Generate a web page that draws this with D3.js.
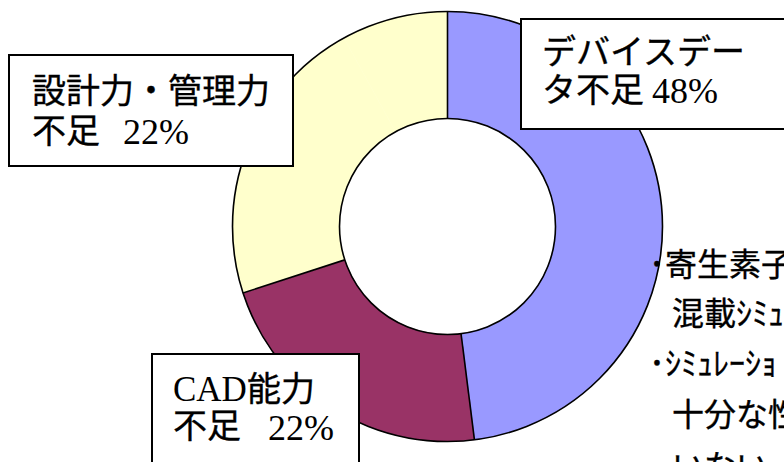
<!DOCTYPE html>
<html>
<head>
<meta charset="utf-8">
<script src="https://cdn.jsdelivr.net/npm/d3@7"></script>
<style>
  html, body { margin: 0; padding: 0; background: #ffffff; }
  svg { display: block; }
  .jp { stroke: #000; stroke-width: 0.35px; }
</style>
</head>
<body>
<script>
// Causes of analog design problems (share, %)
const categories = ["デバイスデータ不足", "CAD能力不足", "設計力・管理力不足", "その他"];
const values = [48, 22, 22, 8];
const colors = ["#9999FF", "#993366", "#FFFFCC", "#FFFFCC"];
// Two-line callout text for the three named causes
const labelLines = [
  ["デバイスデー", "タ不足"],
  ["CAD能力", "不足"],
  ["設計力・管理力", "不足"]
];
// Side note lines
const noteLines = ["･寄生素子", "混載ｼﾐｭ", "･ｼﾐｭﾚｰｼｮ", "十分な性", "いない"];

const W = 784, H = 462;
const cx = 447.5, cy = 226.5, rOuter = 215, rInner = 108;
const jpFont = "'Noto Sans CJK JP', 'Noto Sans CJK SC', sans-serif";
const numFont = "'Liberation Serif', 'Times New Roman', serif";

const svg = d3.select("body").append("svg")
  .attr("width", W).attr("height", H);

const pie = d3.pie().sort(null).value(d => d);
const arcs = pie(values);
const arc = d3.arc().innerRadius(rInner).outerRadius(rOuter);

const g = svg.append("g").attr("transform", `translate(${cx},${cy})`);

// slice fills
g.selectAll("path.slice")
  .data(arcs)
  .join("path")
  .attr("class", "slice")
  .attr("d", arc)
  .attr("fill", (d, i) => colors[i])
  .attr("stroke", (d, i) => colors[i])
  .attr("stroke-width", 0.5);

// ring outlines
[rOuter, rInner].forEach(r => {
  g.append("circle").attr("r", r)
    .attr("fill", "none").attr("stroke", "#000").attr("stroke-width", 1.6);
});

// radial dividers at the start of each named slice
arcs.slice(0, 3).forEach(a => {
  const t = a.startAngle;
  g.append("line")
    .attr("x1", rInner * Math.sin(t)).attr("y1", -rInner * Math.cos(t))
    .attr("x2", rOuter * Math.sin(t)).attr("y2", -rOuter * Math.cos(t))
    .attr("stroke", "#000").attr("stroke-width", 1.6);
});

// callout boxes with text anchors and baselines
const boxes = [
  { x: 521, y: 19, w: 300, h: 110, tx: 542, b1: 64, b2: 102, vx: 652, vb: 103 },
  { x: 152, y: 354, w: 207, h: 150, tx: 173, b1: 401, b2: 438, vx: 268, vb: 440 },
  { x: 9, y: 55, w: 284, h: 111, tx: 32, b1: 103, b2: 143, vx: 123, vb: 144 }
];

boxes.forEach((b, i) => {
  const bg = svg.append("g");
  bg.append("rect")
    .attr("x", b.x).attr("y", b.y).attr("width", b.w).attr("height", b.h)
    .attr("fill", "#fff").attr("stroke", "#000").attr("stroke-width", 2);
  const lines = labelLines[i];
  const t1 = bg.append("text")
    .attr("x", b.tx).attr("y", b.b1)
    .attr("font-size", 34).attr("fill", "#000");
  // Latin letters set in the serif face, Japanese in the gothic face
  const m = lines[0].match(/^([A-Za-z]*)(.*)$/);
  if (m[1]) {
    t1.append("tspan").attr("font-family", numFont).attr("font-size", 35).text(m[1]);
  }
  t1.append("tspan").attr("class", "jp").attr("font-family", jpFont).text(m[2]);
  bg.append("text")
    .attr("class", "jp")
    .attr("x", b.tx).attr("y", b.b2)
    .attr("font-family", jpFont).attr("font-size", 34).attr("fill", "#000")
    .text(lines[1]);
  bg.append("text")
    .attr("x", b.vx).attr("y", b.vb)
    .attr("font-family", numFont).attr("font-size", 36).attr("fill", "#000")
    .text(values[i] + "%");
});

// side note
const noteBase = [276, 325, 375, 426, 478];
svg.append("g").selectAll("text")
  .data(noteLines)
  .join("text")
  .attr("class", "jp")
  .attr("x", d => d.startsWith("･") ? 649 : 672)
  .attr("y", (d, i) => noteBase[i])
  .attr("font-family", jpFont)
  .attr("font-size", 32)
  .attr("fill", "#000")
  .text(d => d);
</script>
</body>
</html>
